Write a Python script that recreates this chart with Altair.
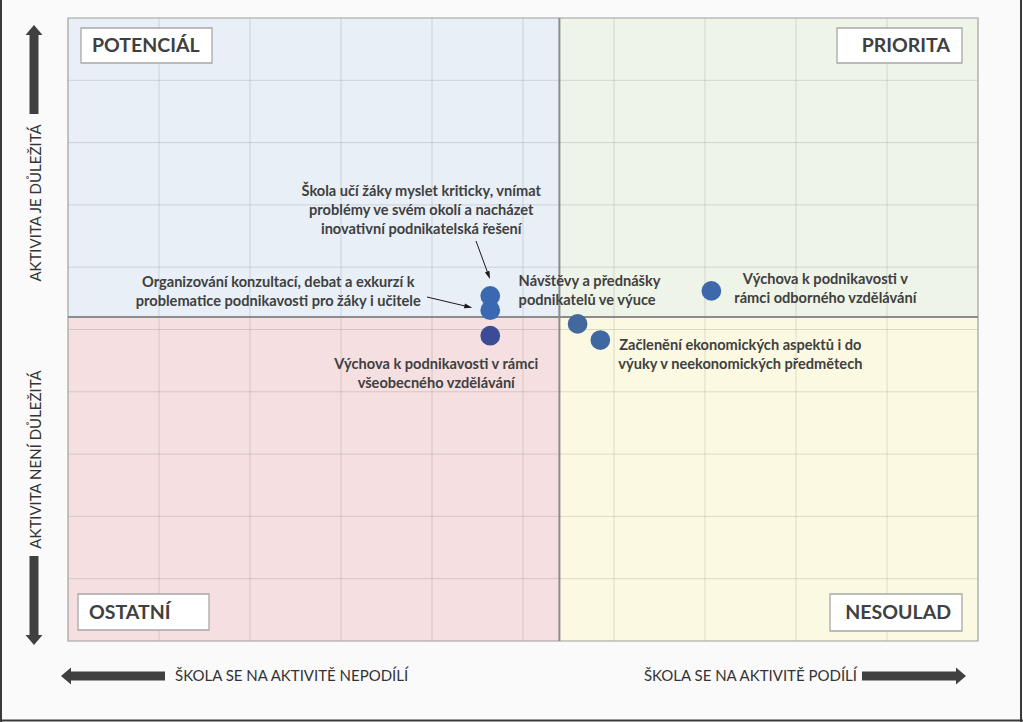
import altair as alt
import pandas as pd

# ---------------- data ----------------
activities = [
    "Škola učí žáky myslet kriticky",
    "Organizování konzultací, debat a exkurzí",
    "Výchova – všeobecné vzdělávání",
    "Návštěvy a přednášky podnikatelů",
    "Začlenění ekonomických aspektů",
    "Výchova – odborné vzdělávání",
]
label_lines = [
    "Škola učí žáky myslet kriticky, vnímat\nproblémy ve svém okolí a nacházet\ninovativní podnikatelská řešení",
    "Organizování konzultací, debat a exkurzí k\nproblematice podnikavosti pro žáky i učitele",
    "Výchova k podnikavosti v rámci\nvšeobecného vzdělávání",
    "Návštěvy a přednášky\npodnikatelů ve výuce",
    "Začlenění ekonomických aspektů i do\nvýuky v neekonomických předmětech",
    "Výchova k podnikavosti v\nrámci odborného  vzdělávání",
]
school_share = [4.64, 4.64, 4.64, 5.60, 5.85, 7.07]   # x: škola se na aktivitě podílí
importance = [5.54, 5.31, 4.90, 5.09, 4.83, 5.62]     # y: aktivita je důležitá

x_split = 5.4
y_split = 5.2
grid_values = list(range(0, 11))

quadrant_names = ["POTENCIÁL", "PRIORITA", "OSTATNÍ", "NESOULAD"]

# ---------------- styles ----------------
point_colors = ["#3a69b1", "#3a69b1", "#3a4c93", "#43689c", "#3f68a2", "#3d68aa"]
quad_colors = ["#e8eff7", "#eff4e9", "#f5dfe1", "#fbf9e1"]
TXT = "#404040"
FONT = "Lato"

# label placement (align, dx, dy of first line) relative to the point
label_style = [
    ("center", -69, -104),
    ("center", -212, -27),
    ("center", -54, 29),
    ("left", -59, -42),
    ("center", 140, 6),
    ("center", 114, -11),
]

W, H = 910, 623
xs = alt.Scale(domain=[0, 10], nice=False, zero=False)
ys = alt.Scale(domain=[0, 10], nice=False, zero=False)

pts = pd.DataFrame({
    "activity": activities,
    "label": label_lines,
    "x": school_share,
    "y": importance,
})

quad_df = pd.DataFrame({
    "name": quadrant_names,
    "x0": [0, x_split, 0, x_split],
    "x1": [x_split, 10, x_split, 10],
    "y0": [y_split, y_split, 0, 0],
    "y1": [10, 10, y_split, y_split],
})

one = pd.DataFrame({"k": [0]})

layers = []

# quadrant backgrounds
layers.append(
    alt.Chart(quad_df).mark_rect().encode(
        x=alt.X("x0:Q", scale=xs, axis=None),
        x2="x1",
        y=alt.Y("y0:Q", scale=ys, axis=None),
        y2="y1",
        color=alt.Color("name:N", scale=alt.Scale(domain=quadrant_names, range=quad_colors), legend=None),
    )
)

# grid
gdf = pd.DataFrame({"g": grid_values})
layers.append(alt.Chart(gdf).mark_rule(color="#000000", opacity=0.12, strokeWidth=1).encode(
    x=alt.X("g:Q", scale=xs, axis=None)))
layers.append(alt.Chart(gdf).mark_rule(color="#000000", opacity=0.12, strokeWidth=1).encode(
    y=alt.Y("g:Q", scale=ys, axis=None)))

# plot border
layers.append(alt.Chart(pd.DataFrame({"x0": [0], "x1": [10], "y0": [0], "y1": [10]})).mark_rect(
    fillOpacity=0, stroke="#ababab", strokeWidth=1.2).encode(
    x=alt.X("x0:Q", scale=xs, axis=None), x2="x1",
    y=alt.Y("y0:Q", scale=ys, axis=None), y2="y1"))

# dividers
layers.append(alt.Chart(pd.DataFrame({"v": [x_split]})).mark_rule(color="#8c8c8c", strokeWidth=2).encode(
    x=alt.X("v:Q", scale=xs, axis=None)))
layers.append(alt.Chart(pd.DataFrame({"v": [y_split]})).mark_rule(color="#8c8c8c", strokeWidth=2).encode(
    y=alt.Y("v:Q", scale=ys, axis=None)))

# points
layers.append(alt.Chart(pts).mark_circle(size=390, opacity=1).encode(
    x=alt.X("x:Q", scale=xs, axis=None),
    y=alt.Y("y:Q", scale=ys, axis=None),
    color=alt.Color("activity:N", scale=alt.Scale(domain=activities, range=point_colors), legend=None),
))

# point labels
for i, (al, dx, dy) in enumerate(label_style):
    layers.append(
        alt.Chart(pts.iloc[[i]]).mark_text(
            align=al, baseline="middle", dx=dx, dy=dy, lineBreak="\n", lineHeight=19,
            font=FONT, fontSize=14.6, fontWeight="bold", color=TXT,
        ).encode(
            x=alt.X("x:Q", scale=xs, axis=None),
            y=alt.Y("y:Q", scale=ys, axis=None),
            text="label:N",
        )
    )

# leader arrows (pixel decorations)
def seg(x1, y1, x2, y2, color, width, cap="butt"):
    return alt.Chart(one).mark_rule(color=color, strokeWidth=width, strokeCap=cap).encode(
        x=alt.value(x1), y=alt.value(y1), x2=alt.value(x2), y2=alt.value(y2))

def head(x, y, angle, size, color, path):
    return alt.Chart(one).mark_point(shape=path, filled=True, size=size, angle=angle,
                                     color=color, opacity=1, strokeWidth=0).encode(
        x=alt.value(x), y=alt.value(y))

OX, OY = 68, 18
thin_head = "M-0.6,1L0,-1L0.6,1Z"
layers.append(seg(476 - OX, 241 - OY, 488.6 - OX, 275.3 - OY, "#1a1a1a", 1))
layers.append(head(488.6 - OX, 275.3 - OY, 159.3, 64, "#1a1a1a", thin_head))
layers.append(seg(427 - OX, 297 - OY, 468.4 - OX, 306.8 - OY, "#1a1a1a", 1))
layers.append(head(468.4 - OX, 306.8 - OY, 102.5, 64, "#1a1a1a", thin_head))

# quadrant label boxes
boxes = [
    (81, 212, 28, 63, "left", 92, 46),
    (837, 962, 28, 63, "right", 950, 46),
    (78, 209, 594, 630, "left", 89, 612.5),
    (830, 962, 594, 631, "right", 951, 613),
]
for name, (bx0, bx1, by0, by1, al, tx, ty) in zip(quadrant_names, boxes):
    layers.append(alt.Chart(one).mark_rect(fill="#ffffff", stroke="#a8a8a8", strokeWidth=1.3).encode(
        x=alt.value(bx0 - OX), x2=alt.value(bx1 - OX), y=alt.value(by0 - OY), y2=alt.value(by1 - OY)))
    layers.append(alt.Chart(one).mark_text(
        text=name, align=al, baseline="middle", font=FONT, fontSize=19.5, fontWeight="bold", color=TXT
    ).encode(x=alt.value(tx - OX), y=alt.value(ty - OY)))

# margin arrows
DARK = "#404040"
big_head = "M-1,0.588L0,-0.588L1,0.588Z"
layers.append(seg(34 - OX, 34 - OY, 34 - OX, 114 - OY, DARK, 9))
layers.append(head(34 - OX, 30 - OY, 0, 289, DARK, big_head))
layers.append(seg(34 - OX, 556 - OY, 34 - OX, 636 - OY, DARK, 9))
layers.append(head(34 - OX, 640 - OY, 180, 289, DARK, big_head))
layers.append(seg(70 - OX, 676 - OY, 165 - OX, 676 - OY, DARK, 9))
layers.append(head(66 - OX, 676 - OY, 270, 289, DARK, big_head))
layers.append(seg(862 - OX, 676 - OY, 957 - OX, 676 - OY, DARK, 9))
layers.append(head(961 - OX, 676 - OY, 90, 289, DARK, big_head))

# margin texts
def mtext(t, x, y, al, angle=0):
    return alt.Chart(one).mark_text(text=t, align=al, baseline="middle", angle=angle,
                                    font=FONT, fontSize=15, color="#333333").encode(
        x=alt.value(x - OX), y=alt.value(y - OY))

layers.append(mtext("AKTIVITA JE DŮLEŽITÁ", 36, 203, "center", 270))
layers.append(mtext("AKTIVITA NENÍ DŮLEŽITÁ", 36, 459.5, "center", 270))
layers.append(mtext("ŠKOLA SE NA AKTIVITĚ NEPODÍLÍ", 175, 676, "left"))
layers.append(mtext("ŠKOLA SE NA AKTIVITĚ PODÍLÍ", 857, 676, "right"))

# outer frame (left, right, bottom)
FR = "#3a3a3a"
layers.append(seg(1 - OX, 0 - OY, 1 - OX, 722 - OY, FR, 2))
layers.append(seg(1021 - OX, 0 - OY, 1021 - OX, 722 - OY, FR, 2))
layers.append(seg(0 - OX, 720.5 - OY, 1023 - OX, 720.5 - OY, FR, 2))

chart = alt.layer(*layers).resolve_scale(color="independent").properties(
    width=W, height=H,
    autosize=alt.AutoSizeParams(type="none"),
    padding={"left": OX, "top": OY, "right": 1023 - OX - W, "bottom": 722 - OY - H},
    background="#fafafa",
).configure_view(stroke=None)

chart.save("out.html", embed_options={"renderer": "svg", "actions": False})
